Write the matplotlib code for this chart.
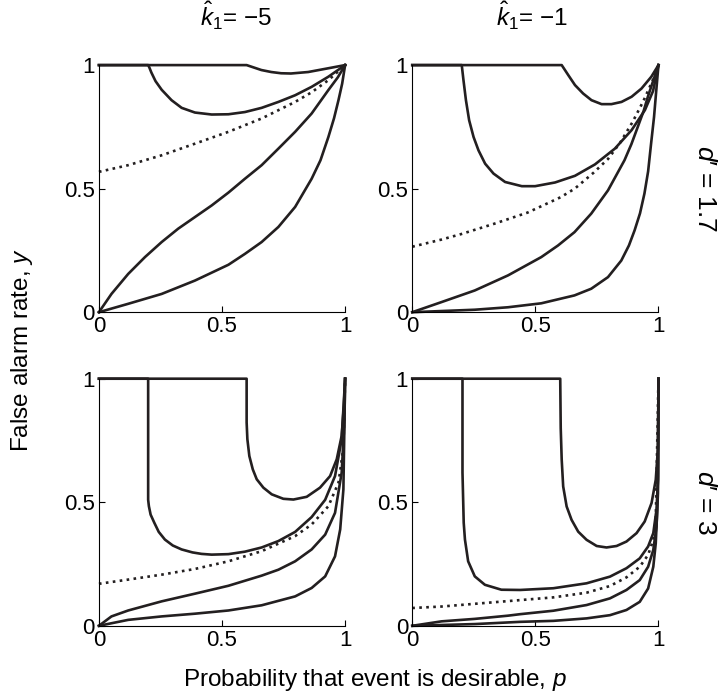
import matplotlib
matplotlib.use('Agg')
import matplotlib.pyplot as plt

# values (p on x, false alarm rate y on y)
# panel k1=-5, d'=1.7
tl_a_p = [0, 0.6, 0.63, 0.66, 0.7, 0.74, 0.78, 0.85, 0.92, 1]
tl_a_y = [1, 1, 0.99, 0.98, 0.972, 0.967, 0.966, 0.972, 0.985, 1]
tl_b_p = [0, 0.2, 0.205, 0.213, 0.23, 0.255, 0.295, 0.336, 0.39, 0.458, 0.526, 0.593, 0.661, 0.729, 0.797, 0.864, 0.932, 1]
tl_b_y = [1, 1, 0.99, 0.97, 0.935, 0.90, 0.858, 0.827, 0.808, 0.80, 0.801, 0.81, 0.827, 0.851, 0.878, 0.912, 0.953, 1]
tl_dot_p = [0, 0.119, 0.255, 0.39, 0.526, 0.661, 0.797, 0.864, 0.932, 1]
tl_dot_y = [0.568, 0.595, 0.635, 0.682, 0.73, 0.784, 0.851, 0.89, 0.939, 1]
tl_d_p = [0, 0.051, 0.119, 0.187, 0.255, 0.322, 0.39, 0.458, 0.526, 0.593, 0.661, 0.729, 0.797, 0.864, 0.932, 0.97, 1]
tl_d_y = [0, 0.074, 0.155, 0.223, 0.284, 0.338, 0.385, 0.432, 0.484, 0.54, 0.595, 0.662, 0.73, 0.804, 0.899, 0.95, 1]
tl_e_p = [0, 0.119, 0.255, 0.39, 0.526, 0.593, 0.661, 0.729, 0.797, 0.864, 0.9, 0.932, 0.955, 0.973, 0.988, 1]
tl_e_y = [0, 0.034, 0.074, 0.128, 0.192, 0.236, 0.284, 0.345, 0.426, 0.54, 0.615, 0.709, 0.785, 0.858, 0.925, 1]

# panel k1=-1, d'=1.7
tr_a_p = [0, 0.607, 0.634, 0.661, 0.694, 0.728, 0.769, 0.809, 0.85, 0.891, 0.931, 0.971, 1]
tr_a_y = [1, 1, 0.959, 0.919, 0.885, 0.858, 0.842, 0.842, 0.851, 0.872, 0.905, 0.953, 1]
tr_b_p = [0, 0.201, 0.208, 0.218, 0.231, 0.249, 0.269, 0.296, 0.33, 0.377, 0.445, 0.499, 0.58, 0.661, 0.742, 0.823, 0.891, 0.945, 0.978, 1]
tr_b_y = [1, 1, 0.939, 0.858, 0.777, 0.709, 0.655, 0.601, 0.561, 0.527, 0.51, 0.51, 0.525, 0.552, 0.598, 0.662, 0.737, 0.818, 0.895, 1]
tr_dot_p = [0, 0.119, 0.198, 0.333, 0.468, 0.602, 0.66, 0.737, 0.795, 0.845, 0.895, 0.939, 0.975, 1]
tr_dot_y = [0.265, 0.294, 0.316, 0.358, 0.403, 0.465, 0.5, 0.565, 0.62, 0.687, 0.77, 0.855, 0.935, 1]
tr_d_p = [0, 0.119, 0.254, 0.389, 0.524, 0.592, 0.659, 0.727, 0.795, 0.862, 0.89, 0.916, 0.94, 0.957, 0.978, 1]
tr_d_y = [0, 0.041, 0.088, 0.149, 0.223, 0.27, 0.324, 0.399, 0.493, 0.615, 0.68, 0.75, 0.815, 0.872, 0.935, 1]
tr_e_p = [0, 0.254, 0.389, 0.524, 0.659, 0.727, 0.795, 0.849, 0.88, 0.903, 0.925, 0.943, 0.958, 0.97, 0.982, 0.99, 1]
tr_e_y = [0, 0.01, 0.02, 0.036, 0.068, 0.095, 0.142, 0.209, 0.27, 0.331, 0.4, 0.48, 0.57, 0.682, 0.79, 0.885, 1]

# panel k1=-5, d'=3
bl_a_p = [0, 0.6, 0.6, 0.603, 0.611, 0.625, 0.641, 0.668, 0.702, 0.749, 0.79, 0.844, 0.898, 0.939, 0.966, 0.986, 0.995, 1]
bl_a_y = [1, 1, 0.823, 0.755, 0.687, 0.633, 0.593, 0.559, 0.532, 0.514, 0.511, 0.522, 0.559, 0.606, 0.674, 0.769, 0.89, 1]
bl_b_p = [0, 0.2, 0.2, 0.203, 0.21, 0.225, 0.243, 0.268, 0.3, 0.336, 0.38, 0.417, 0.458, 0.526, 0.593, 0.661, 0.729, 0.797, 0.864, 0.919, 0.959, 0.986, 1]
bl_b_y = [1, 1, 0.51, 0.484, 0.45, 0.417, 0.38, 0.349, 0.325, 0.309, 0.297, 0.291, 0.288, 0.29, 0.3, 0.317, 0.343, 0.38, 0.44, 0.51, 0.606, 0.755, 1]
bl_dot_p = [0, 0.119, 0.255, 0.39, 0.526, 0.661, 0.797, 0.864, 0.932, 0.973, 0.993, 1]
bl_dot_y = [0.17, 0.187, 0.207, 0.23, 0.261, 0.302, 0.363, 0.41, 0.484, 0.579, 0.72, 1]
bl_d_p = [0, 0.051, 0.119, 0.255, 0.39, 0.526, 0.661, 0.729, 0.797, 0.864, 0.919, 0.959, 0.986, 0.997, 1]
bl_d_y = [0, 0.038, 0.062, 0.099, 0.13, 0.162, 0.203, 0.227, 0.261, 0.309, 0.369, 0.457, 0.62, 0.823, 1]
bl_e_p = [0, 0.119, 0.255, 0.39, 0.526, 0.661, 0.797, 0.864, 0.919, 0.959, 0.98, 0.993, 1]
bl_e_y = [0, 0.024, 0.038, 0.049, 0.062, 0.083, 0.119, 0.153, 0.2, 0.281, 0.39, 0.552, 1]

# panel k1=-1, d'=3
br_a_p = [0, 0.601, 0.603, 0.607, 0.613, 0.627, 0.647, 0.674, 0.708, 0.749, 0.789, 0.83, 0.87, 0.911, 0.944, 0.972, 0.989, 0.998, 1]
br_a_y = [1, 1, 0.8, 0.672, 0.564, 0.483, 0.429, 0.381, 0.348, 0.323, 0.317, 0.323, 0.341, 0.375, 0.422, 0.497, 0.591, 0.72, 1]
br_b_p = [0, 0.204, 0.204, 0.209, 0.214, 0.227, 0.254, 0.295, 0.362, 0.438, 0.573, 0.708, 0.803, 0.87, 0.924, 0.958, 0.979, 0.992, 0.998, 1]
br_b_y = [1, 1, 0.62, 0.417, 0.349, 0.261, 0.2, 0.166, 0.146, 0.145, 0.152, 0.172, 0.199, 0.233, 0.273, 0.321, 0.375, 0.47, 0.591, 1]
br_dot_p = [0, 0.119, 0.254, 0.389, 0.438, 0.573, 0.708, 0.803, 0.87, 0.924, 0.958, 0.979, 0.989, 1]
br_dot_y = [0.072, 0.078, 0.089, 0.1, 0.104, 0.115, 0.134, 0.161, 0.196, 0.239, 0.287, 0.348, 0.429, 1]
br_d_p = [0, 0.119, 0.254, 0.389, 0.438, 0.573, 0.708, 0.803, 0.87, 0.924, 0.958, 0.979, 0.992, 0.998, 1]
br_d_y = [0, 0.018, 0.028, 0.041, 0.047, 0.061, 0.084, 0.111, 0.145, 0.185, 0.239, 0.307, 0.402, 0.537, 1]
br_e_p = [0, 0.254, 0.438, 0.573, 0.708, 0.803, 0.87, 0.924, 0.958, 0.979, 0.989, 0.995, 0.998, 1]
br_e_y = [0, 0.007, 0.016, 0.02, 0.03, 0.043, 0.064, 0.097, 0.151, 0.239, 0.334, 0.469, 0.604, 1]

col_titles = [r'$\hat{k}_1$= −5', r'$\hat{k}_1$= −1']
row_titles = ['$d$′ = 1.7', '$d$′ = 3']

panels = [
    [(tl_a_p, tl_a_y), (tl_b_p, tl_b_y), (tl_dot_p, tl_dot_y), (tl_d_p, tl_d_y), (tl_e_p, tl_e_y)],
    [(tr_a_p, tr_a_y), (tr_b_p, tr_b_y), (tr_dot_p, tr_dot_y), (tr_d_p, tr_d_y), (tr_e_p, tr_e_y)],
    [(bl_a_p, bl_a_y), (bl_b_p, bl_b_y), (bl_dot_p, bl_dot_y), (bl_d_p, bl_d_y), (bl_e_p, bl_e_y)],
    [(br_a_p, br_a_y), (br_b_p, br_b_y), (br_dot_p, br_dot_y), (br_d_p, br_d_y), (br_e_p, br_e_y)],
]

plt.rcParams['font.family'] = ['Liberation Sans', 'DejaVu Sans']
plt.rcParams['mathtext.fontset'] = 'custom'
plt.rcParams['mathtext.it'] = 'Liberation Sans:italic'
plt.rcParams['mathtext.rm'] = 'Liberation Sans'

fig = plt.figure(figsize=(7.22, 7.0), dpi=100)
lefts = [0.137, 0.571]
bottoms = [0.554, 0.106]
w, h = 0.341, 0.353
title_x = [0.555, 0.485]

for i, curves in enumerate(panels):
    row, col = divmod(i, 2)
    ax = fig.add_axes([lefts[col], bottoms[row], w, h])
    for j, (p, y) in enumerate(curves):
        ls = ':' if j == 2 else '-'
        ax.plot(p, y, color='#231f20', lw=1.9, ls=ls, clip_on=False,
                solid_joinstyle='round')
    ax.set_xlim(0, 1)
    ax.set_ylim(0, 1)
    ax.spines['top'].set_visible(False)
    ax.spines['right'].set_visible(False)
    for s in ['left', 'bottom']:
        ax.spines[s].set_linewidth(0.8)
    ax.set_xticks([0, 0.5, 1])
    ax.set_xticklabels(['0', '0.5', '1'])
    ax.set_yticks([0, 0.5, 1])
    ax.set_yticklabels(['0', '0.5', '1'])
    ax.tick_params(direction='in', length=4, width=0.8, labelsize=16, pad=3)
    if row == 0:
        ax.set_title(col_titles[col], fontsize=17.5, pad=28, x=title_x[col])
    if col == 1:
        ax.text(1.19, 0.5, row_titles[row], transform=ax.transAxes, rotation=270,
                fontsize=19, ha='center', va='center')

fig.text(0.031, 0.5, 'False alarm rate, $y$', rotation=90, fontsize=17.5,
         ha='center', va='center')
fig.text(0.519, 0.028, 'Probability that event is desirable, $p$', fontsize=17.5,
         ha='center', va='center')

plt.savefig('out.png', dpi=100)
